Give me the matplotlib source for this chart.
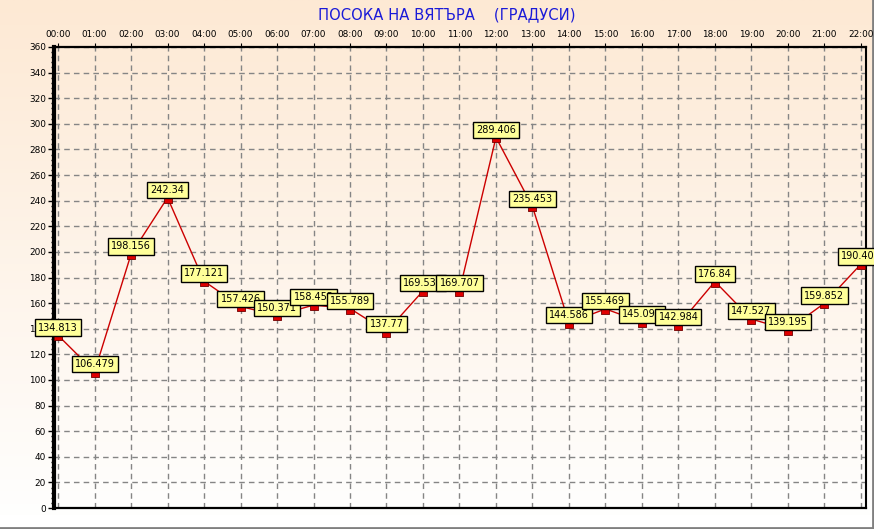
import numpy as np
import matplotlib
matplotlib.use("Agg")
import matplotlib.pyplot as plt
from matplotlib.path import Path
from matplotlib.ticker import MultipleLocator

hours = ["00:00", "01:00", "02:00", "03:00", "04:00", "05:00", "06:00", "07:00",
         "08:00", "09:00", "10:00", "11:00", "12:00", "13:00", "14:00", "15:00",
         "16:00", "17:00", "18:00", "19:00", "20:00", "21:00", "22:00"]
direction = [134.813, 106.479, 198.156, 242.34, 177.121, 157.426, 150.371, 158.453,
             155.789, 137.77, 169.531, 169.707, 289.406, 235.453, 144.586, 155.469,
             145.094, 142.984, 176.84, 147.527, 139.195, 159.852, 190.406]
title = "ПОСОКА НА ВЯТЪРА    (ГРАДУСИ)"

W, H = 874, 529
fig = plt.figure(figsize=(W / 100, H / 100), dpi=100)

# background gradient (peach at top to white at bottom)
bg = fig.add_axes([0, 0, 1, 1], zorder=-10)
top = np.array([253, 233, 212]) / 255.0
bot = np.array([255, 255, 255]) / 255.0
t = np.linspace(0, 1, 256)[:, None]
grad = top[None, :] * (1 - t) + bot[None, :] * t
grad = np.clip(grad, 0, 1)
img = np.repeat(grad[:, None, :], 2, axis=1)
bg.imshow(img, aspect="auto", extent=[0, 1, 0, 1], origin="upper")
bg.set_xlim(0, 1)
bg.set_ylim(0, 1)
bg.axis("off")
# white strip below plot and panel border
bg.fill_between([0, 1], 0, 14 / H, color="white", zorder=1)
bg.plot([0, 1], [1.5 / H, 1.5 / H], color="#808080", lw=2, zorder=2)
bg.plot([1 - 1.5 / W, 1 - 1.5 / W], [0, 1], color="#808080", lw=2, zorder=2)

left_px, right_px, top_px, bot_px = 53.5, 866, 47, 508
ax = fig.add_axes([left_px / W, 1 - bot_px / H, (right_px - left_px) / W, (bot_px - top_px) / H])
ax.patch.set_alpha(0)

x = np.arange(len(hours))
ax.set_xlim(-0.125, 22.14)
ax.set_ylim(0, 360)

ax.grid(True, which="major", color="#858585", linestyle=(0, (4, 3)), linewidth=1)
ax.set_axisbelow(True)

ax.set_xticks(x)
ax.set_xticklabels(hours)
ax.xaxis.tick_top()
ax.tick_params(axis="x", which="both", length=3, pad=3, labelsize=6.4, direction="out")
ax.set_yticks(np.arange(0, 361, 20))
ax.yaxis.set_minor_locator(MultipleLocator(4))
ax.tick_params(axis="y", which="major", length=4, width=1, pad=1.5, labelsize=6.4)
ax.tick_params(axis="y", which="minor", length=2, width=1)

for s in ["top", "bottom"]:
    ax.spines[s].set_linestyle((0, (3, 1)))
    ax.spines[s].set_linewidth(1.6)
ax.spines["left"].set_linewidth(3)
ax.spines["right"].set_linewidth(1.5)

ax.plot(x, direction, color="#CC0000", lw=1, zorder=3)

rect = Path([(-4, -5), (4, -5), (4, 0), (-4, 0), (-4, -5)],
            [Path.MOVETO, Path.LINETO, Path.LINETO, Path.LINETO, Path.CLOSEPOLY])
ax.plot(x, direction, linestyle="none", marker=rect, markersize=7.2,
        markerfacecolor="#E00000", markeredgecolor="#700000", markeredgewidth=0.6,
        zorder=4, clip_on=False)

for i, (xi, v) in enumerate(zip(x, direction)):
    ax.annotate(repr(v), (xi, v), xytext=(0, 2.0), textcoords="offset points",
                ha="center", va="bottom", fontsize=7, color="black",
                bbox=dict(boxstyle="square,pad=0.32", fc="#FFFF99", ec="black", lw=1),
                zorder=5 + i, annotation_clip=False)

fig.text(447 / W, 1 - 15 / H, title, ha="center", va="center", fontsize=10.6,
         color="#1A1AD8")

fig.savefig("out.png", dpi=100)
